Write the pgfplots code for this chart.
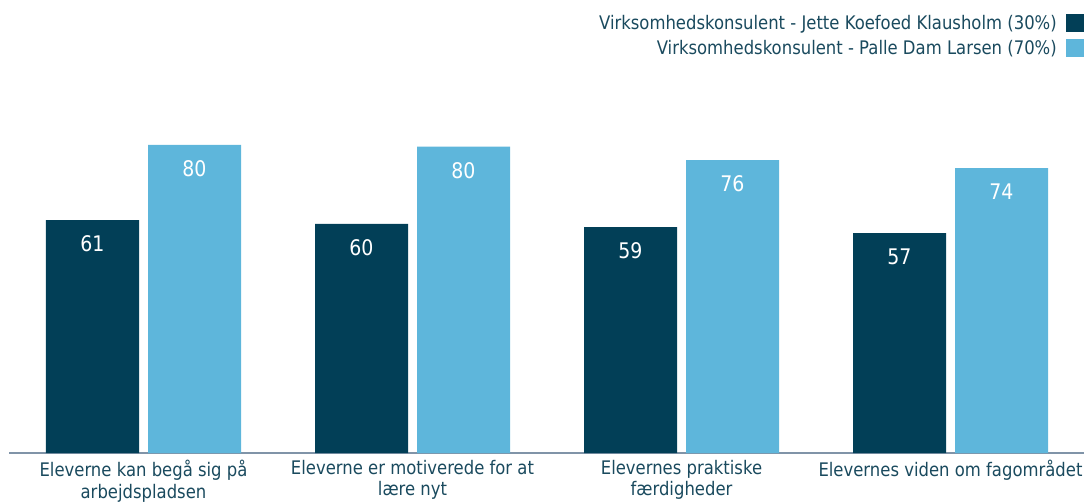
\documentclass[border=0pt]{standalone}
\usepackage{fontspec}
\setmainfont{DejaVu Sans}[FakeStretch=0.88]
\usepackage{pgfplots}
\pgfplotsset{compat=1.18}
\definecolor{dark}{HTML}{023F57}
\definecolor{light}{HTML}{5EB6DB}
\definecolor{txt}{HTML}{1A4A5E}
\definecolor{axl}{HTML}{8094A8}
\begin{document}
\begin{tikzpicture}
\begin{axis}[
  scale only axis, width=1076pt, height=385pt,
  xmin=-0.5, xmax=3.5, ymin=0, ymax=100,
  axis x line=bottom, axis y line=none,
  axis line style={-},
  x axis line style={draw=axl, line width=2pt},
  ybar=9pt, bar width=93pt,
  xtick={0,1,2,3},
  xticklabels={{Eleverne kan begå sig på\\arbejdspladsen},{Eleverne er motiverede for at\\lære nyt},{Elevernes praktiske\\færdigheder},{Elevernes viden om fagområdet}},
  major tick length=0pt,
  xticklabel style={font=\fontsize{18.7}{21.5}\selectfont, text=txt, align=center, inner sep=0pt, anchor=north, yshift=-7pt},
  nodes near coords, point meta=explicit symbolic,
  every node near coord/.append style={text=white, anchor=center, yshift=-24pt, inner sep=0pt, font=\fontsize{21.5}{24}\selectfont},
  legend plot pos=right,
  legend cell align=right,
  legend style={at={(1,1)}, anchor=north east, xshift=-1pt, yshift=54pt, draw=none, fill=none, inner sep=0pt, row sep=7pt, font=\fontsize{18.7}{23}\selectfont, text=txt, nodes={inner sep=0pt, outer sep=0pt}, column sep=9pt},
]
\addplot[fill=dark, draw=none, legend image code/.code={\fill[dark] (0pt,-9pt) rectangle (18pt,9pt);}] coordinates {(0,60.5) [61] (1,59.5) [60] (2,58.7) [59] (3,57.1) [57]};
\addlegendentry{Virksomhedskonsulent - Jette Koefoed Klausholm (30\%)}
\addplot[fill=light, draw=none, legend image code/.code={\fill[light] (0pt,-9pt) rectangle (18pt,9pt);}] coordinates {(0,80) [80] (1,79.6) [80] (2,76.1) [76] (3,74) [74]};
\addlegendentry{Virksomhedskonsulent - Palle Dam Larsen (70\%)}
\coordinate (O) at (axis cs:-0.5,0);
\end{axis}
\pgfresetboundingbox
\path (O) ++(-9pt,-50pt) rectangle ++(1084pt,503pt);
\end{tikzpicture}
\end{document}
